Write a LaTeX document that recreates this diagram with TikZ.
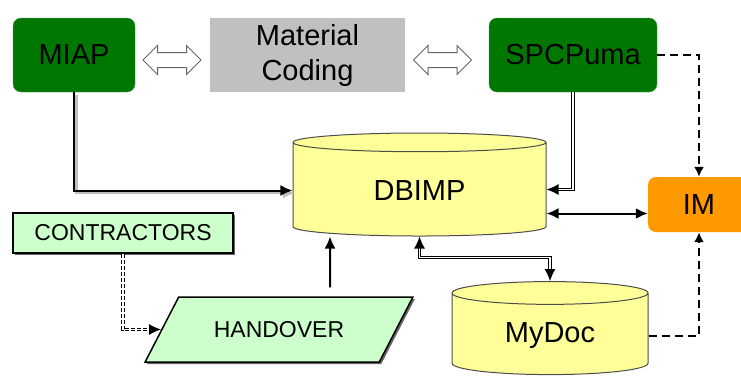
\documentclass[tikz,border=0pt]{standalone}
\usepackage{fontspec}
\setmainfont{Liberation Sans}
\usetikzlibrary{shapes.geometric,shapes.arrows,arrows.meta,shadows}
\definecolor{appgreen}{RGB}{0,119,0}
\definecolor{codegray}{RGB}{192,192,192}
\definecolor{dbyellow}{RGB}{255,255,153}
\definecolor{palegreen}{RGB}{204,255,204}
\definecolor{imorange}{RGB}{255,153,0}
\tikzset{big text/.style={font=\fontsize{29}{35}\selectfont}}
\tikzset{app node/.style={big text, rectangle, rounded corners=8pt, fill=appgreen,
    draw=appgreen!70!white, minimum width=#1, minimum height=74pt}}
\tikzset{coding node/.style={big text, rectangle, fill=codegray, align=center,
    minimum width=195pt, minimum height=74pt}}
\tikzset{im node/.style={big text, rectangle, rounded corners=8pt, fill=imorange,
    minimum width=102pt, minimum height=55pt}}
\tikzset{db node/.style={big text, cylinder, shape border rotate=90, draw=black!70,
    fill=dbyellow, line width=1pt}}
\tikzset{doc node/.style={rectangle, draw, fill=palegreen, line width=1.5pt,
    font=\fontsize{23}{28}\selectfont,
    drop shadow={shadow xshift=2pt, shadow yshift=-2pt, fill=black!60, opacity=1}}}
\tikzset{hand node/.style={doc node, trapezium, trapezium left angle=45, trapezium right angle=135,
    trapezium stretches=true, minimum width=268pt, minimum height=65pt}}
\tikzset{link arrow/.style={double arrow, draw=black!60, fill=white, line width=1pt,
    minimum height=58pt, inner sep=7pt, double arrow head extend=7pt}}
\tikzset{tip/.style={-{Latex[length=12pt,width=11pt]}}}
\tikzset{data edge/.style={line width=2pt, tip}}
\tikzset{shadowed/.style={preaction={draw=gray!50, line width=2.5pt,
    transform canvas={xshift=2.5pt, yshift=-2.5pt}}}}
\tikzset{twin edge/.style={line width=1.2pt, double=white, double distance=1.5pt, tip}}
\tikzset{dash edge/.style={line width=2pt, dash pattern=on 8pt off 5pt,
    -{Latex[length=10pt,width=10pt]}}}

\begin{document}
\begin{tikzpicture}[x=1pt, y=-1pt]
  \clip (0,0) rectangle (741,376);

  \node [app node=122pt]                          (miap)        at ( 74,  55)   {MIAP};
  \node [coding node]                             (coding)      at (307.5, 55)  {Material\\Coding};
  \node [app node=168pt]                          (spcpuma)     at (573,  55)   {SPCPuma};
  \node [im node]                                 (im)          at (699, 204.5) {IM};
  \node [db node, minimum width=253pt, minimum height=103pt, aspect=0.19]
                                                  (dbimp)       at (419.5, 190.5) {DBIMP};
  \node [db node, minimum width=196pt, minimum height=93pt, aspect=0.235]
                                                  (mydoc)       at (550, 335.5) {MyDoc};
  \node [doc node, minimum width=220pt, minimum height=40pt]
                                                  (contractors) at (123, 233)   {CONTRACTORS};
  \node [hand node]                               (handover)    at (279, 329.5) {HANDOVER};

  \node [link arrow] (miaplink) at (172,   60) {};
  \node [link arrow] (pumalink) at (442.5, 60) {};

  \draw [data edge, shadowed]    (miap.south)    |- (dbimp.west);
  \draw [twin edge]              (spcpuma.south) |- ([yshift=1pt]dbimp.east);
  \draw [data edge, {Latex[length=12pt,width=11pt]}-{Latex[length=12pt,width=11pt]}]
                                 ([yshift=-23pt]dbimp.east) -- ([yshift=-23pt]dbimp.east -| im.west);
  \draw [twin edge, {Latex[length=12pt,width=11pt]}-{Latex[length=12pt,width=11pt]}]
                                 (dbimp.south) -- ++(0,21) -| (mydoc.north);
  \draw [dash edge]              (spcpuma.east)  -| (im.north);
  \draw [dash edge]              (mydoc.east)    -| (im.south);
  \draw [twin edge, dash pattern=on 4pt off 2pt] (contractors.south) |- (handover.west);
  \draw [data edge]              ([xshift=51pt,yshift=9pt]handover.north) -- ([xshift=-89.5pt]dbimp.south);
\end{tikzpicture}
\end{document}
